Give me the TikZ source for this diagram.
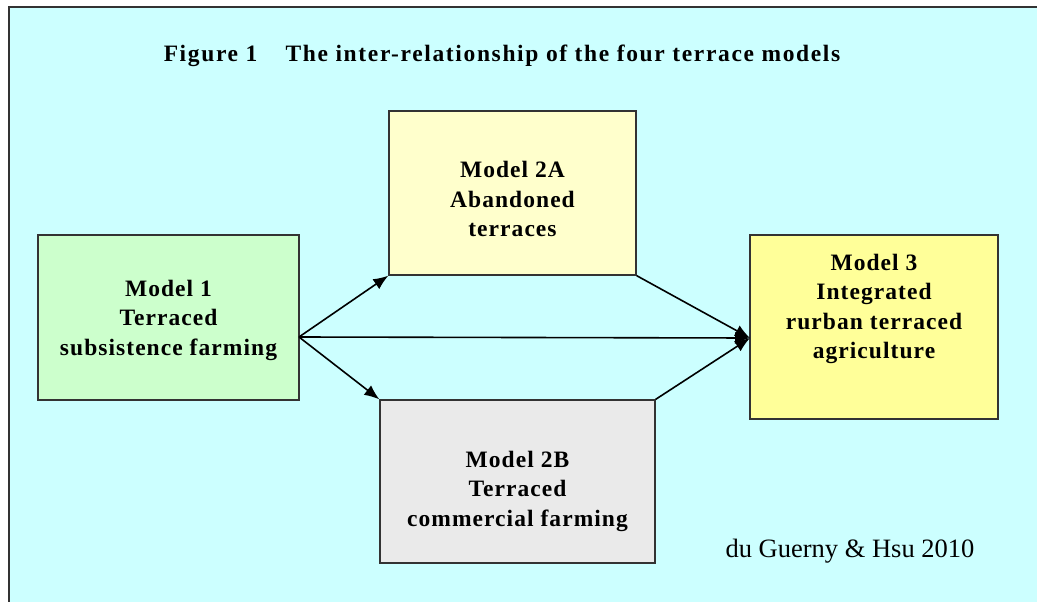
\documentclass[tikz,border=0pt]{standalone}
\usepackage{fontspec}
\setmainfont{Liberation Serif}
\newfontfamily\titlefont[LetterSpace=7]{Liberation Serif}
\newfontfamily\boxfont[LetterSpace=4.5]{Liberation Serif}
\usetikzlibrary{arrows.meta}
\definecolor{bgcyan}{HTML}{CCFFFF}
\definecolor{mgreen}{HTML}{CCFFCC}
\definecolor{mcream}{HTML}{FFFFCC}
\definecolor{mgray}{HTML}{EAEAEA}
\definecolor{myellow}{HTML}{FFFF99}
\definecolor{edge}{HTML}{333333}
\tikzset{
  modelbox/.style={draw=edge, line width=1.3pt, rectangle, inner sep=0pt},
  modeltext/.style={align=center, font=\boxfont\fontsize{23.5}{29.5}\selectfont\bfseries, inner sep=0pt},
  link/.style={line width=1.6pt, draw=black, -{Latex[length=15pt,width=12pt]}},
}
\begin{document}
\begin{tikzpicture}[x=1pt,y=-1pt]
\useasboundingbox (0,0) rectangle (1037,602);
\fill[bgcyan] (9,7) rectangle (1037,602);
\draw[edge, line width=2pt] (9,610) -- (9,7) -- (1040,7);

\node[font=\titlefont\fontsize{23.5}{28}\selectfont\bfseries, anchor=base] (title) at (502,62) {Figure 1\hspace{1.2em}The inter-relationship of the four terrace models};

\node[modelbox, fill=mgreen, minimum width=261pt, minimum height=165pt] (m1) at (168.5,317.5) {};
\node[modelbox, fill=mcream, minimum width=247pt, minimum height=164pt] (m2a) at (512.5,193) {};
\node[modelbox, fill=mgray, minimum width=275pt, minimum height=163pt] (m2b) at (517.5,481.5) {};
\node[modelbox, fill=myellow, minimum width=248pt, minimum height=184pt] (m3) at (874,327) {};

\node[modeltext] (t1) at (168.5,320) {Model 1\\Terraced\\subsistence farming};
\node[modeltext] (t2a) at (512.5,199) {Model 2A\\Abandoned\\terraces};
\node[modeltext] (t2b) at (517.5,491) {Model 2B\\Terraced\\commercial farming};
\node[modeltext] (t3) at (874,309) {Model 3\\Integrated\\rurban terraced\\agriculture};

\node[font=\fontsize{26.5}{30}\selectfont, anchor=base] (cite) at (850,557) {du Guerny \& Hsu 2010};

\coordinate (s) at (299,337);
\coordinate (e) at (750,338);
\draw[link] (s) -- (m2a.south west);
\draw[link] (s) -- (m2b.north west);
\draw[link] (s) -- (e);
\draw[link] (m2a.south east) -- (e);
\draw[link] (m2b.north east) -- (e);
\end{tikzpicture}
\end{document}
